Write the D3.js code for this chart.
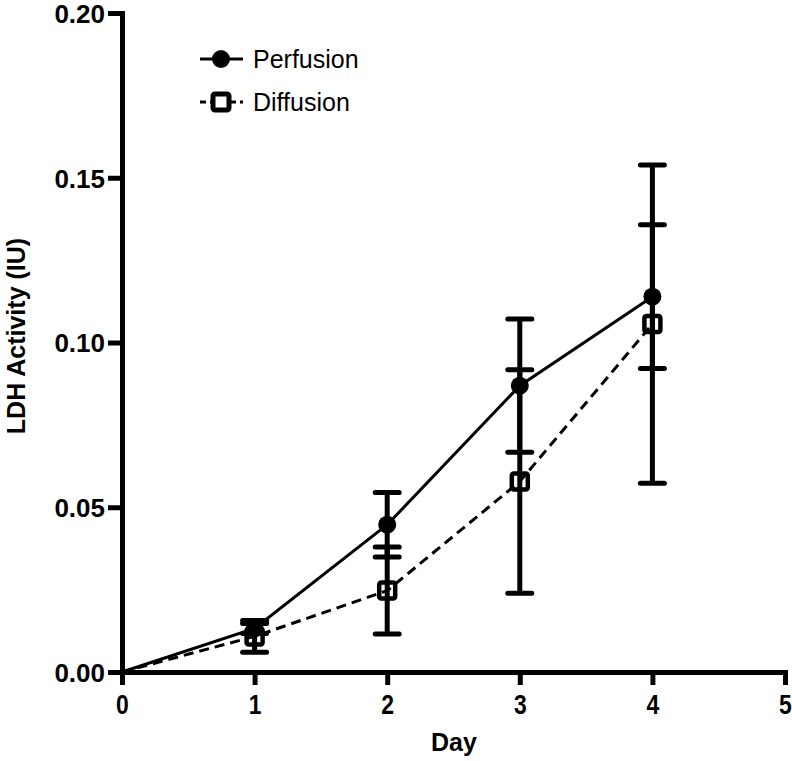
<!DOCTYPE html>
<html><head><meta charset="utf-8">
<script src="https://cdn.jsdelivr.net/npm/d3@7"></script>
<style>body{margin:0;background:#fff}svg{display:block}</style>
</head><body>
<svg id="c" width="792" height="761"></svg>
<script>
const days = [0, 1, 2, 3, 4];
const perfusion = [0, 0.0132, 0.0447, 0.0869, 0.1139];
const perfusionErr = [0, 0.0015, 0.0098, 0.0202, 0.0218];
const diffusion = [0, 0.0108, 0.0247, 0.0578, 0.1056];
const diffusionErr = [0, 0.0048, 0.0132, 0.0339, 0.0483];
const xTicks = [0, 1, 2, 3, 4, 5];
const yTicks = [0, 0.05, 0.10, 0.15, 0.20];

const svg = d3.select("#c");
const x = d3.scaleLinear().domain([0, 5]).range([122, 785]);
const y = d3.scaleLinear().domain([0, 0.20]).range([672, 13]);
const font = "'Liberation Sans', Arial, sans-serif";

// axes
const xAxis = svg.append("g").attr("transform", "translate(0,672)")
  .call(d3.axisBottom(x).tickValues(xTicks).tickFormat(d3.format("d")).tickSize(13).tickSizeOuter(0));
const yAxis = svg.append("g").attr("transform", "translate(122,0)")
  .call(d3.axisLeft(y).tickValues(yTicks).tickFormat(d3.format(".2f")).tickSize(14).tickSizeOuter(0));
[xAxis, yAxis].forEach(g => {
  g.select(".domain").attr("stroke", "#000").attr("stroke-width", 5).attr("stroke-linecap", "square");
  g.selectAll(".tick line").attr("stroke", "#000").attr("stroke-width", 5);
  g.selectAll(".tick text").attr("fill", "#000").style("font-family", font)
    .style("font-weight", "bold").style("font-size", "26px");
});
xAxis.selectAll(".tick text").style("font-size", "28px").attr("dy", 0).attr("y", 42).attr("transform", "scale(0.82,1)");
yAxis.selectAll(".tick text").attr("x", -17).attr("dy", "0.36em");

svg.append("text").attr("x", 454).attr("y", 751).attr("text-anchor", "middle")
  .attr("font-family", font).attr("font-weight", "bold").attr("font-size", 25).text("Day");
svg.append("text").attr("transform", "translate(25,336) rotate(-90)").attr("text-anchor", "middle")
  .attr("font-family", font).attr("font-weight", "bold").attr("font-size", 25).text("LDH Activity (IU)");

const line = d3.line().x((d, i) => x(days[i])).y(d => y(d));

// error bars
function errBars(vals, errs) {
  const g = svg.append("g");
  vals.forEach((v, i) => {
    if (errs[i] === 0) return;
    const cx = x(days[i]);
    g.append("line").attr("x1", cx).attr("x2", cx).attr("y1", y(v + errs[i])).attr("y2", y(v - errs[i]))
      .attr("stroke", "#000").attr("stroke-width", 5);
    [v + errs[i], v - errs[i]].forEach(e => {
      g.append("line").attr("x1", cx - 12).attr("x2", cx + 12).attr("y1", y(e)).attr("y2", y(e))
        .attr("stroke", "#000").attr("stroke-width", 5).attr("stroke-linecap", "round");
    });
  });
}
errBars(perfusion, perfusionErr);
errBars(diffusion, diffusionErr);

svg.append("path").datum(perfusion).attr("d", line).attr("fill", "none").attr("stroke", "#000").attr("stroke-width", 3);
svg.append("path").datum(diffusion).attr("d", line).attr("fill", "none").attr("stroke", "#000")
  .attr("stroke-width", 3).attr("stroke-dasharray", "10,6");

// markers
perfusion.forEach((v, i) => {
  if (i === 0) return;
  svg.append("circle").attr("cx", x(days[i])).attr("cy", y(v)).attr("r", 9).attr("fill", "#000");
});
diffusion.forEach((v, i) => {
  if (i === 0) return;
  svg.append("rect").attr("x", x(days[i]) - 8).attr("y", y(v) - 8).attr("width", 16).attr("height", 16)
    .attr("rx", 2).attr("fill", "none").attr("stroke", "#000").attr("stroke-width", 4.5);
});

// legend
const lg = svg.append("g");
lg.append("line").attr("x1", 200).attr("x2", 243).attr("y1", 59).attr("y2", 59).attr("stroke", "#000").attr("stroke-width", 3);
lg.append("circle").attr("cx", 221).attr("cy", 59).attr("r", 9).attr("fill", "#000");
lg.append("text").attr("x", 253).attr("y", 68).attr("font-family", font).attr("font-size", 25).text("Perfusion");
lg.append("line").attr("x1", 200).attr("x2", 243).attr("y1", 102).attr("y2", 102).attr("stroke", "#000")
  .attr("stroke-width", 3).attr("stroke-dasharray", "6,4");
lg.append("rect").attr("x", 213).attr("y", 94).attr("width", 16).attr("height", 16).attr("rx", 2)
  .attr("fill", "#fff").attr("stroke", "#000").attr("stroke-width", 5);
lg.append("text").attr("x", 253).attr("y", 111).attr("font-family", font).attr("font-size", 25).text("Diffusion");
</script>
</body></html>
